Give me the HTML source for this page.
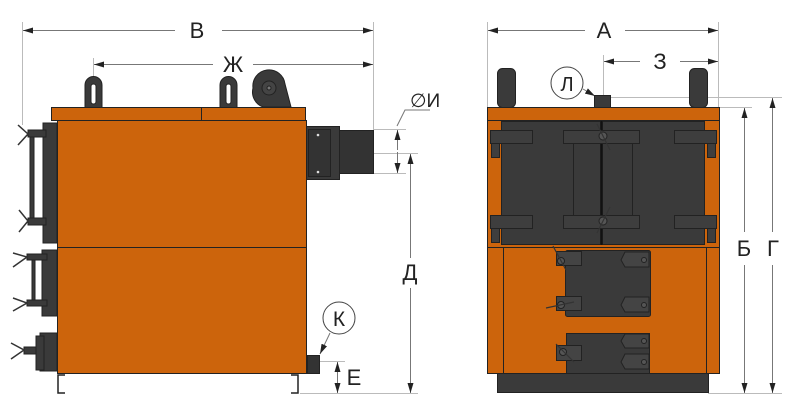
<!DOCTYPE html>
<html><head><meta charset="utf-8"><style>
html,body{margin:0;padding:0;background:#fff;width:791px;height:407px;overflow:hidden}
text{font-family:"Liberation Sans",sans-serif;fill:#222}
</style></head><body>
<svg width="791" height="407" viewBox="0 0 791 407" xmlns="http://www.w3.org/2000/svg">
<defs>
<marker id="a" viewBox="0 0 10 6" refX="10" refY="3" markerWidth="10" markerHeight="6" orient="auto-start-reverse" markerUnits="userSpaceOnUse"><path d="M0,0 L10,3 L0,6 z" fill="#222"/></marker>
</defs>
<g stroke="#bbb" stroke-width="1" fill="none">
<line x1="22.5" y1="22" x2="22.5" y2="125"/>
<line x1="373.5" y1="22" x2="373.5" y2="130"/>
<line x1="93.5" y1="58" x2="93.5" y2="78"/>
<line x1="374" y1="129.5" x2="406" y2="129.5"/>
<line x1="374" y1="173.5" x2="406" y2="173.5"/>
<line x1="374" y1="153.5" x2="418" y2="153.5"/>
<line x1="300" y1="393.5" x2="418" y2="393.5"/>
<line x1="320" y1="361.5" x2="345" y2="361.5"/>
<line x1="487.5" y1="22" x2="487.5" y2="107"/>
<line x1="718.5" y1="22" x2="718.5" y2="107"/>
<line x1="603.5" y1="55" x2="603.5" y2="97"/>
<line x1="611" y1="97.5" x2="782" y2="97.5"/>
<line x1="720" y1="107.5" x2="752" y2="107.5"/>
<line x1="708" y1="393.5" x2="782" y2="393.5"/>
</g>
<g stroke="#777" stroke-width="1" fill="none">
<line x1="23" y1="30.5" x2="175" y2="30.5" marker-start="url(#a)"/>
<line x1="222" y1="30.5" x2="373" y2="30.5" marker-end="url(#a)"/>
<line x1="94" y1="64.5" x2="213" y2="64.5" marker-start="url(#a)"/>
<line x1="253" y1="64.5" x2="373" y2="64.5" marker-end="url(#a)"/>
<line x1="397.5" y1="130" x2="397.5" y2="150" marker-start="url(#a)"/>
<line x1="397.5" y1="152" x2="397.5" y2="173" marker-end="url(#a)"/>
<polyline points="397,126 405,110 430,110"/>
<line x1="410.5" y1="154" x2="410.5" y2="258" marker-start="url(#a)"/>
<line x1="410.5" y1="288" x2="410.5" y2="393" marker-end="url(#a)"/>
<line x1="337.5" y1="362" x2="337.5" y2="393" marker-start="url(#a)" marker-end="url(#a)"/>
<line x1="488" y1="30.5" x2="585" y2="30.5" marker-start="url(#a)"/>
<line x1="625" y1="30.5" x2="718" y2="30.5" marker-end="url(#a)"/>
<line x1="604" y1="61.5" x2="640" y2="61.5" marker-start="url(#a)"/>
<line x1="680" y1="61.5" x2="718" y2="61.5" marker-end="url(#a)"/>
<line x1="744.5" y1="108" x2="744.5" y2="232" marker-start="url(#a)"/>
<line x1="744.5" y1="265" x2="744.5" y2="393" marker-end="url(#a)"/>
<line x1="772.5" y1="98" x2="772.5" y2="232" marker-start="url(#a)"/>
<line x1="772.5" y1="265" x2="772.5" y2="393" marker-end="url(#a)"/>
<line x1="330" y1="333" x2="320" y2="354" marker-end="url(#a)"/>
<line x1="583" y1="89" x2="595" y2="96" marker-end="url(#a)"/>
</g>
<text x="197" y="38" font-size="22" text-anchor="middle">В</text>
<text x="233" y="72" font-size="22" text-anchor="middle">Ж</text>
<text x="410" y="107" font-size="19">∅И</text>
<text x="410" y="280" font-size="22" text-anchor="middle">Д</text>
<text x="354" y="385" font-size="22" text-anchor="middle">Е</text>
<text x="604" y="38" font-size="22" text-anchor="middle">А</text>
<text x="660" y="69" font-size="22" text-anchor="middle">З</text>
<text x="744" y="256" font-size="22" text-anchor="middle">Б</text>
<text x="773" y="256" font-size="22" text-anchor="middle">Г</text>
<circle cx="339" cy="318" r="16" fill="#fff" stroke="#444"/>
<text x="339" y="326" font-size="21" text-anchor="middle">К</text>
<circle cx="567" cy="83" r="16" fill="#fff" stroke="#444"/>
<text x="567" y="91" font-size="20" text-anchor="middle">Л</text>

<g stroke="#222" stroke-width="1">
<path d="M85,108 V85 a8.5,8.5 0 0 1 17,0 V108 z" fill="#3a3a3a"/>
<rect x="91" y="84" width="5" height="20" rx="2.5" fill="#fff"/>
<path d="M220,108 V85 a8.5,8.5 0 0 1 17,0 V108 z" fill="#3a3a3a"/>
<rect x="226" y="84" width="5" height="20" rx="2.5" fill="#fff"/>
<path d="M253,88 a16,16 0 0 1 32,-4 l6,23 h-28 a16,16 0 0 1 -10,-19z" fill="#3a3a3a"/>
<circle cx="269" cy="88" r="7" fill="#444"/>
<circle cx="269" cy="88" r="2" fill="#777"/>
<rect x="51.5" y="107.5" width="254" height="13" fill="#cc640c"/>
<line x1="201.5" y1="108" x2="201.5" y2="120"/>
<rect x="57.5" y="120.5" width="249" height="253" fill="#cc640c"/>
<line x1="57" y1="247.5" x2="306" y2="247.5"/>
<rect x="306.5" y="126.5" width="33" height="53" fill="#3a3a3a"/>
<rect x="308.5" y="129.5" width="22" height="47" fill="#333"/>
<rect x="339.5" y="130.5" width="34" height="43" fill="#333"/>
<rect x="307.5" y="355.5" width="12" height="18" fill="#333"/>
</g>
<circle cx="318" cy="135" r="1.3" fill="#ddd"/><circle cx="318" cy="172" r="1.3" fill="#ddd"/>
<g stroke="#222" stroke-width="1.5" fill="none">
<polyline points="65,375 58,375 58,393 65,393"/>
<polyline points="291,375 298,375 298,393 291,393"/>
</g>
<g fill="#3a3a3a" stroke="#222" stroke-width="1">
<rect x="43" y="123" width="14" height="120"/>
<rect x="28" y="130" width="18" height="7"/>
<rect x="28" y="218" width="18" height="7"/>
<rect x="30" y="137" width="4" height="81"/>
<rect x="42" y="250" width="15" height="66"/>
<rect x="27" y="254" width="20" height="6"/>
<rect x="27" y="300" width="20" height="6"/>
<rect x="32" y="260" width="3" height="40"/>
<rect x="40" y="333" width="17" height="38"/>
<rect x="24" y="347" width="20" height="7"/>
<rect x="36" y="336" width="8" height="34"/>
</g>
<g stroke="#333" stroke-width="1.5" fill="none">
<path d="M18,125 L28,134 L18,145"/>
<path d="M19,210 L28,221 L19,232"/>
<path d="M13,253 L27,257 L13,267"/>
<path d="M13,298 L27,303 L13,311"/>
<path d="M11,343 L24,350 L11,359"/>
</g>

<g stroke="#222" stroke-width="1">
<rect x="497.5" y="68.5" width="18" height="39" rx="5" fill="#3a3a3a"/>
<rect x="689.5" y="68.5" width="18" height="39" rx="5" fill="#3a3a3a"/>
<rect x="594.5" y="95.5" width="16" height="12" fill="#3a3a3a"/>
<rect x="487.5" y="107.5" width="232" height="266" fill="#cc640c"/>
<line x1="488" y1="120.5" x2="719" y2="120.5"/>
<line x1="488" y1="247.5" x2="719" y2="247.5"/>
<line x1="503.5" y1="248" x2="503.5" y2="373"/>
<line x1="706.5" y1="248" x2="706.5" y2="373"/>
<rect x="501.5" y="121.5" width="99" height="123" fill="#3a3a3a"/>
<rect x="602.5" y="121.5" width="102" height="123" fill="#3a3a3a"/>
<line x1="601.5" y1="121" x2="601.5" y2="245" stroke="#111" stroke-width="2"/>
<g fill="#3e3e3e">
<rect x="490.5" y="130.5" width="42" height="13"/>
<rect x="490.5" y="215.5" width="42" height="13"/>
<rect x="563.5" y="130.5" width="76" height="13"/>
<rect x="563.5" y="215.5" width="76" height="13"/>
<rect x="674.5" y="130.5" width="42" height="13"/>
<rect x="674.5" y="215.5" width="42" height="13"/>
<rect x="491.5" y="143.5" width="8" height="14"/>
<rect x="491.5" y="228.5" width="8" height="14"/>
<rect x="707.5" y="143.5" width="8" height="14"/>
<rect x="707.5" y="228.5" width="8" height="14"/>
</g>
<line x1="573.5" y1="143" x2="573.5" y2="215"/><line x1="632.5" y1="143" x2="632.5" y2="215"/>
<circle cx="603" cy="136" r="4" fill="#555"/><circle cx="603" cy="221" r="4" fill="#555"/>
<rect x="565.5" y="250.5" width="85" height="66" rx="2" fill="#3a3a3a"/>
<rect x="566.5" y="333.5" width="83" height="40" fill="#3a3a3a"/>
<rect x="497.5" y="373.5" width="211" height="19" fill="#3a3a3a"/>
<g fill="#444">
<rect x="556.5" y="251.5" width="25" height="14"/>
<rect x="556.5" y="296.5" width="25" height="14"/>
<rect x="556.5" y="345.5" width="25" height="15"/>
<path d="M625,252 h24 v15 h-24 l-4,-7z"/>
<path d="M625,297 h24 v15 h-24 l-4,-7z"/>
<path d="M625,334 h24 v14 h-24 l-4,-7z"/>
<path d="M625,354 h24 v15 h-24 l-4,-7z"/>
</g>
<circle cx="561" cy="261" r="3.5" fill="#555"/>
<circle cx="561" cy="305" r="3.5" fill="#555"/>
<circle cx="563" cy="352" r="3.5" fill="#555"/>
<circle cx="644" cy="260" r="2.5" fill="#555"/><circle cx="644" cy="305" r="2.5" fill="#555"/>
<circle cx="644" cy="341" r="2.5" fill="#555"/><circle cx="644" cy="362" r="2.5" fill="#555"/>
</g>
<g stroke="#333" stroke-width="1.2">
<line x1="553" y1="246" x2="566" y2="270"/>
<line x1="546" y1="308" x2="574" y2="302"/>
<line x1="556" y1="344" x2="574" y2="362"/>
<line x1="597" y1="124" x2="610" y2="150"/>
<line x1="597" y1="233" x2="610" y2="207"/>
</g>
</svg>
</body></html>
